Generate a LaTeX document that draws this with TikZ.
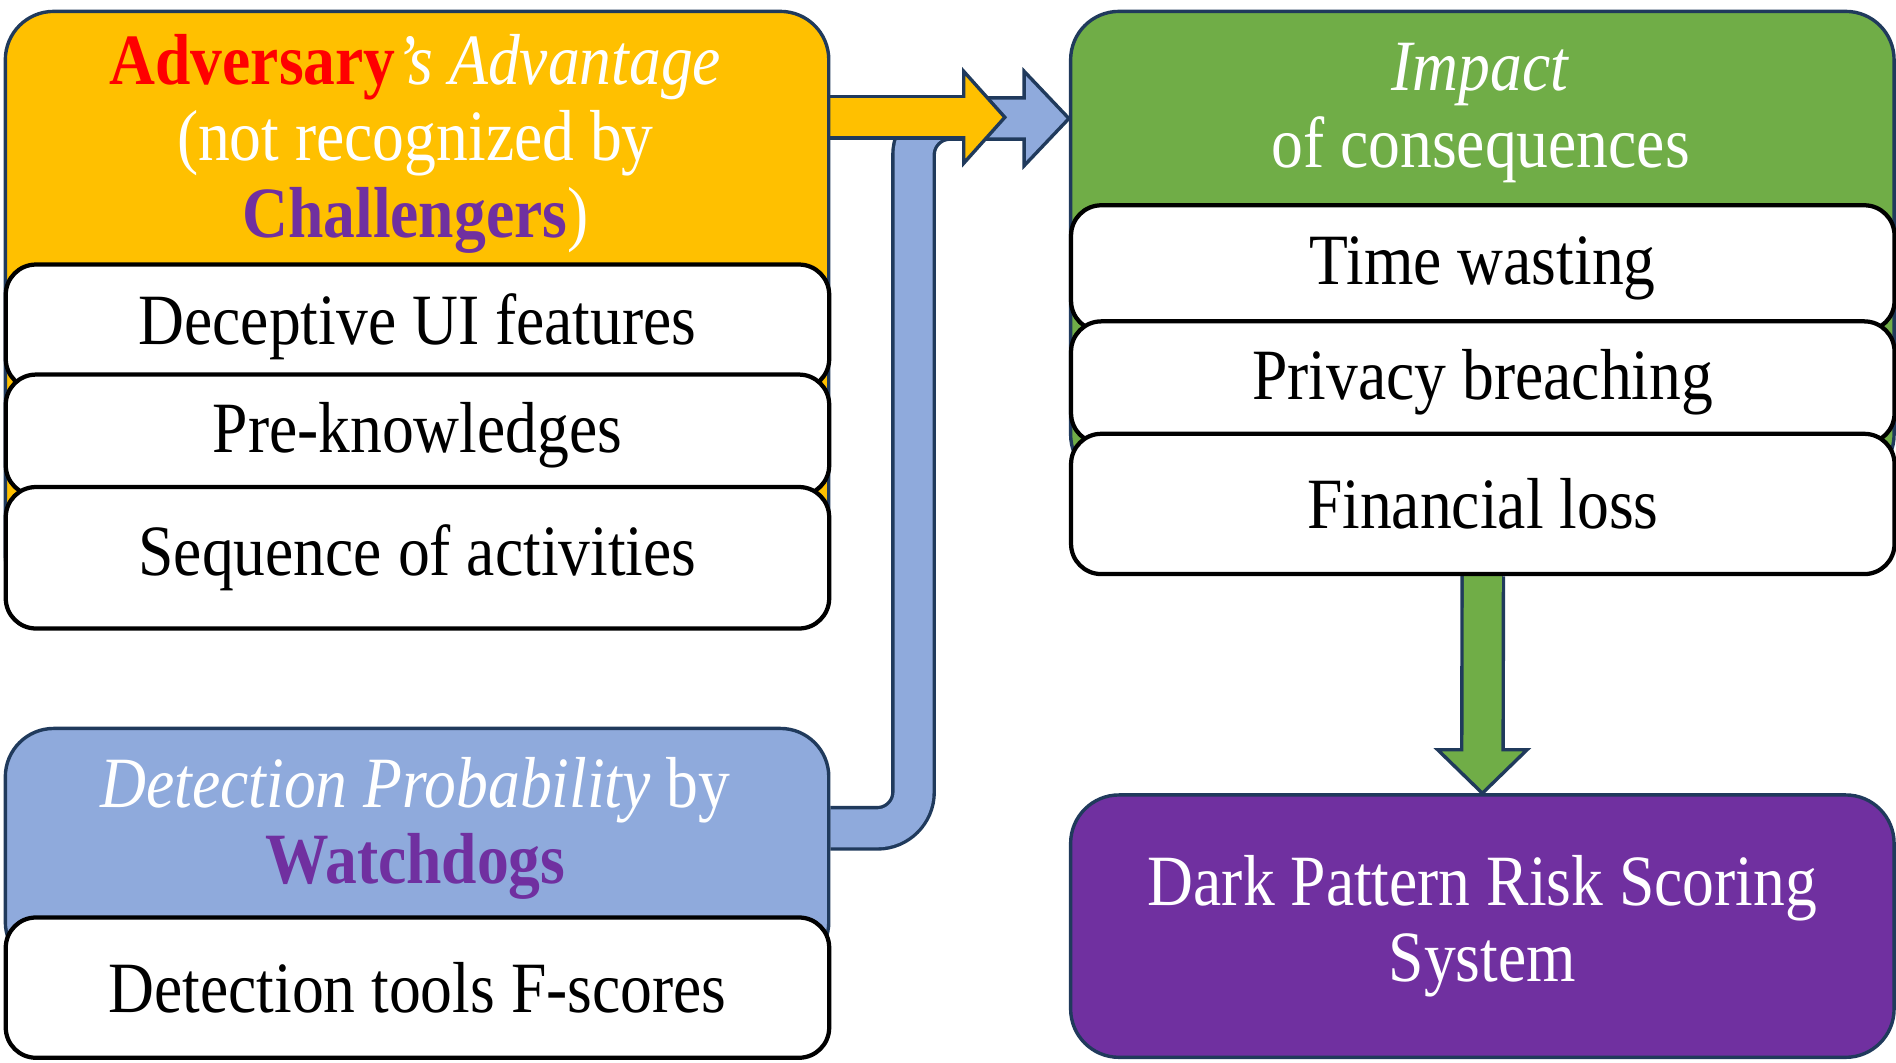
\documentclass[tikz,border=0pt]{standalone}
\usepackage{fontspec}
\setmainfont{Liberation Serif}[FakeStretch=0.88]
\usetikzlibrary{backgrounds}
\definecolor{advyellow}{HTML}{FFC000}
\definecolor{detblue}{HTML}{8FAADC}
\definecolor{impgreen}{HTML}{70AD47}
\definecolor{riskpurple}{HTML}{7030A0}
\definecolor{advred}{HTML}{FF0000}
\definecolor{boxnavy}{HTML}{203A5C}

\begin{document}
\begin{tikzpicture}[
                    font=\fontsize{17}{17.9}\selectfont,
                    headbox/.style={draw=boxnavy, line width=0.8pt, rounded corners=0.4cm,
                                    anchor=north west, minimum width=6.81cm, inner sep=0},
                    itembox/.style={draw=black, fill=white, line width=1pt, rounded corners=0.25cm,
                                    anchor=north west, minimum width=6.81cm, inner sep=0},
                    titletext/.style={text=white, align=center, inner sep=0},
                    pipeout/.style={draw=boxnavy, line width=0.37cm},
                    pipein/.style={line width=0.314cm},
                    arrowhead/.style={draw=boxnavy, line width=0.8pt, line join=miter}]
                \useasboundingbox (0,0) rectangle (15.68,8.79);

                \node[headbox, fill=advyellow, minimum height=4.9cm] (advbox) at (0.03,8.71) {};
                \node[titletext] (advtitle) at (3.435,7.60) {{\bfseries\color{advred}Adversary}\textit{'s Advantage}\\(not recognized by\\{\bfseries\color{riskpurple}Challengers})};
                \node[itembox, minimum height=1.03cm] (decep) at (0.03,6.62) {Deceptive UI features};
                \node[itembox, minimum height=1.00cm] (preknow) at (0.03,5.71) {Pre-knowledges};
                \node[itembox, minimum height=1.17cm] (seq) at (0.03,4.78) {Sequence of activities};

                \node[headbox, fill=detblue, minimum height=2cm] (detbox) at (0.03,2.78) {};
                \node[titletext] (dettitle) at (3.435,1.94) {\textit{Detection Probability} by\\{\bfseries\color{riskpurple}Watchdogs}};
                \node[itembox, minimum height=1.16cm] (fscore) at (0.03,1.22) {Detection tools F-scores};

                \node[headbox, fill=impgreen, minimum height=3.9cm] (impbox) at (8.84,8.71) {};
                \node[titletext] (imptitle) at (12.245,7.855) {\textit{Impact}\\of consequences};
                \node[itembox, minimum height=1.04cm] (timew) at (8.84,7.11) {Time wasting};
                \node[itembox, minimum height=1.01cm] (privacy) at (8.84,6.15) {Privacy breaching};
                \node[itembox, minimum height=1.16cm] (finance) at (8.84,5.22) {Financial loss};

                \node[headbox, fill=riskpurple, minimum height=2.17cm, text=white, align=center] (risk) at (8.84,2.23) {Dark Pattern Risk Scoring\\System};

                \coordinate (advtip) at (8.31,7.82);
                \coordinate (detpipe) at (7.555,7.81);

                \begin{scope}[on background layer]
                    \draw[pipeout, rounded corners=0.3cm, shorten >=0.37cm] (dettitle -| detbox.east) -| (detpipe) -- (detpipe -| impbox.west);
                    \filldraw[arrowhead, fill=detblue] (detpipe -| impbox.west) -- ++(-0.37,0.39) -- ++(0,-0.78) -- cycle;
                    \draw[pipein, detblue, rounded corners=0.3cm, shorten >=0.33cm] (dettitle -| detbox.east) -| (detpipe) -- (detpipe -| impbox.west);

                    \draw[pipeout, shorten >=0.34cm] (advbox.east |- advtip) -- (advtip);
                    \filldraw[arrowhead, fill=advyellow] (advtip) -- ++(-0.34,0.38) -- ++(0,-0.76) -- cycle;
                    \draw[pipein, advyellow, shorten >=0.30cm] (advbox.east |- advtip) -- (advtip);

                    \draw[pipeout, shorten >=0.36cm] (finance.south) -- (risk.north);
                    \filldraw[arrowhead, fill=impgreen] (risk.north) -- ++(-0.37,0.36) -- ++(0.74,0) -- cycle;
                    \draw[pipein, impgreen, shorten >=0.32cm] (finance.south) -- (risk.north);
                \end{scope}
            \end{tikzpicture}
\end{document}
